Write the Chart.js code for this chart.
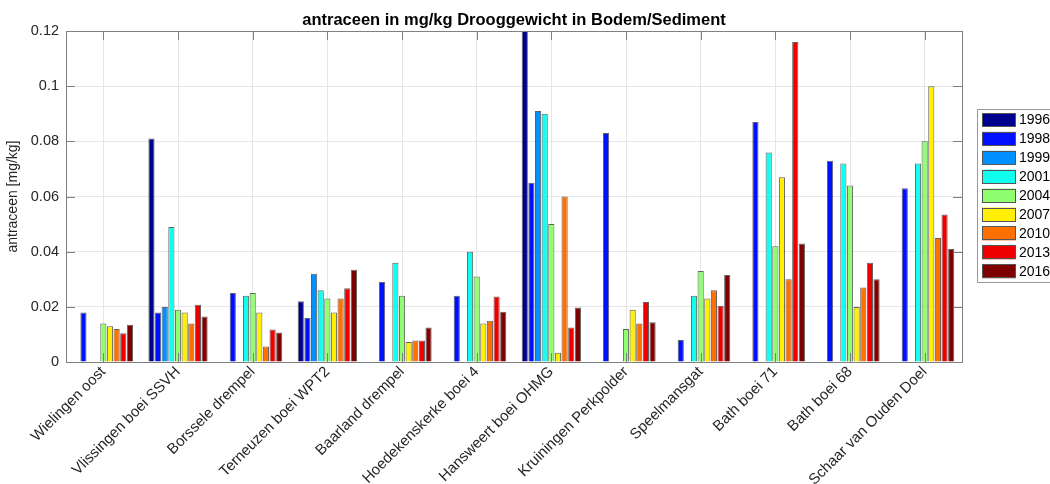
<!DOCTYPE html>
<html>
<head>
    <title>antraceen in mg/kg Drooggewicht in Bodem/Sediment</title>
    <script src="https://cdn.jsdelivr.net/npm/chart.js"></script>
    <style>
        body { margin: 0; background: #fff; }
        #wrap { width: 1050px; height: 484px; }
    </style>
</head>
<body>
    <div id="wrap"><canvas id="myChart" width="1050" height="484"></canvas></div>

    <script>
        // locations (categories)
        const locations = ['Wielingen oost', 'Vlissingen boei SSVH', 'Borssele drempel', 'Terneuzen boei WPT2',
            'Baarland drempel', 'Hoedekenskerke boei 4', 'Hansweert boei OHMG', 'Kruiningen Perkpolder',
            'Speelmansgat', 'Bath boei 71', 'Bath boei 68', 'Schaar van Ouden Doel'];

        // measured values per year (mg/kg), null = no measurement
        const y1996 = [null, 0.081, null, 0.022, null, null, 0.125, null, null, null, null, null];
        const y1998 = [0.018, 0.018, 0.025, 0.016, 0.029, 0.024, 0.065, 0.083, 0.008, 0.087, 0.073, 0.063];
        const y1999 = [null, 0.020, null, 0.032, null, null, 0.091, null, null, null, null, null];
        const y2001 = [null, 0.049, 0.024, 0.026, 0.036, 0.040, 0.090, null, 0.024, 0.076, 0.072, 0.072];
        const y2004 = [0.014, 0.019, 0.025, 0.023, 0.024, 0.031, 0.050, 0.012, 0.033, 0.042, 0.064, 0.080];
        const y2007 = [0.013, 0.018, 0.018, 0.018, 0.0073, 0.014, 0.0034, 0.019, 0.023, 0.067, 0.020, 0.100];
        const y2010 = [0.012, 0.014, 0.0056, 0.023, 0.0078, 0.015, 0.060, 0.014, 0.026, 0.030, 0.027, 0.045];
        const y2013 = [0.0104, 0.0208, 0.0118, 0.0268, 0.0078, 0.0238, 0.0125, 0.0218, 0.0204, 0.116, 0.036, 0.0535];
        const y2016 = [0.0135, 0.0165, 0.0107, 0.0335, 0.0125, 0.0182, 0.0198, 0.0144, 0.0316, 0.043, 0.030, 0.041];

        const years = ['1996', '1998', '1999', '2001', '2004', '2007', '2010', '2013', '2016'];
        const series = [y1996, y1998, y1999, y2001, y2004, y2007, y2010, y2013, y2016];
        const colors = ['#00008f', '#0010ff', '#0090ff', '#10ffef', '#8fff70', '#ffef00', '#ff7000', '#ef0000', '#7f0000'];

        const yTicks = [0, 0.02, 0.04, 0.06, 0.08, 0.1, 0.12];
        const titleText = 'antraceen in mg/kg Drooggewicht in Bodem/Sediment';

        const font = "'Liberation Sans', Arial, sans-serif";
        Chart.defaults.font.family = font;
        Chart.defaults.color = '#262626';

        // axes box, inner tick marks, title over the plot and the framed legend on the right
        const boxPlugin = {
            id: 'boxPlugin',
            afterDraw(chart) {
                const c = chart.ctx;
                const a = chart.chartArea;
                c.save();
                c.strokeStyle = '#808080';
                c.lineWidth = 1;
                c.strokeRect(Math.round(a.left) + 0.5, Math.round(a.top) + 0.5,
                    Math.round(a.right - a.left), Math.round(a.bottom - a.top));
                const xs = chart.scales.x;
                for (let i = 0; i < locations.length; i++) {
                    const px = Math.round(xs.getPixelForTick(i)) + 0.5;
                    c.beginPath();
                    c.moveTo(px, a.top); c.lineTo(px, a.top + 9);
                    c.moveTo(px, a.bottom); c.lineTo(px, a.bottom - 9);
                    c.stroke();
                }
                const ys = chart.scales.y;
                yTicks.forEach(v => {
                    const py = Math.round(ys.getPixelForValue(v)) + 0.5;
                    c.beginPath();
                    c.moveTo(a.right, py); c.lineTo(a.right - 9, py);
                    c.moveTo(a.left, py); c.lineTo(a.left + 9, py);
                    c.stroke();
                });

                // title
                c.fillStyle = '#000';
                c.font = 'bold 16.5px ' + font;
                c.textAlign = 'center';
                c.textBaseline = 'middle';
                c.fillText(titleText, (a.left + a.right) / 2, 20);

                // legend
                const lx = a.right + 15, ly = 109;
                c.textAlign = 'left';
                c.fillStyle = '#fff';
                c.strokeStyle = '#999';
                c.fillRect(lx, ly, 90, 173);
                c.strokeRect(lx + 0.5, ly + 0.5, 90, 173);
                c.font = '14px ' + font;
                chart.data.datasets.forEach((ds, i) => {
                    const sy = ly + 4 + i * 18.9;
                    c.fillStyle = ds.backgroundColor;
                    c.fillRect(lx + 5, sy, 34, 14);
                    c.strokeStyle = '#555';
                    c.strokeRect(lx + 5.5, Math.round(sy) + 0.5, 33, 13);
                    c.fillStyle = '#000';
                    c.fillText(ds.label, lx + 42, sy + 7.5);
                });
                c.restore();
            }
        };

        const ctx = document.getElementById('myChart').getContext('2d');
        const myChart = new Chart(ctx, {
            type: 'bar',
            data: {
                labels: locations,
                datasets: years.map((yr, i) => ({
                    label: yr,
                    data: series[i],
                    backgroundColor: colors[i],
                    borderColor: 'rgba(70,70,70,0.85)',
                    borderWidth: 1,
                    barPercentage: 0.93,
                    categoryPercentage: 0.8
                }))
            },
            options: {
                responsive: false,
                animation: false,
                layout: { padding: { left: 3, right: 88, top: 31, bottom: -6 } },
                plugins: {
                    title: { display: false },
                    legend: { display: false },
                    tooltip: { enabled: false }
                },
                scales: {
                    x: {
                        grid: { offset: false, color: '#e6e6e6', drawTicks: false },
                        border: { display: false },
                        ticks: {
                            maxRotation: 45,
                            minRotation: 45,
                            font: { size: 15 },
                            color: '#262626',
                            padding: 1,
                            autoSkip: false
                        }
                    },
                    y: {
                        min: 0,
                        max: 0.12,
                        grid: { color: '#e6e6e6', drawTicks: false },
                        border: { display: false },
                        ticks: {
                            stepSize: 0.02,
                            font: { size: 14.5 },
                            color: '#262626',
                            padding: 7,
                            callback: v => String(+v.toFixed(2))
                        },
                        title: {
                            display: true,
                            text: 'antraceen [mg/kg]',
                            font: { size: 14 },
                            color: '#262626',
                            padding: 2
                        }
                    }
                }
            },
            plugins: [boxPlugin]
        });
    </script>
</body>
</html>
